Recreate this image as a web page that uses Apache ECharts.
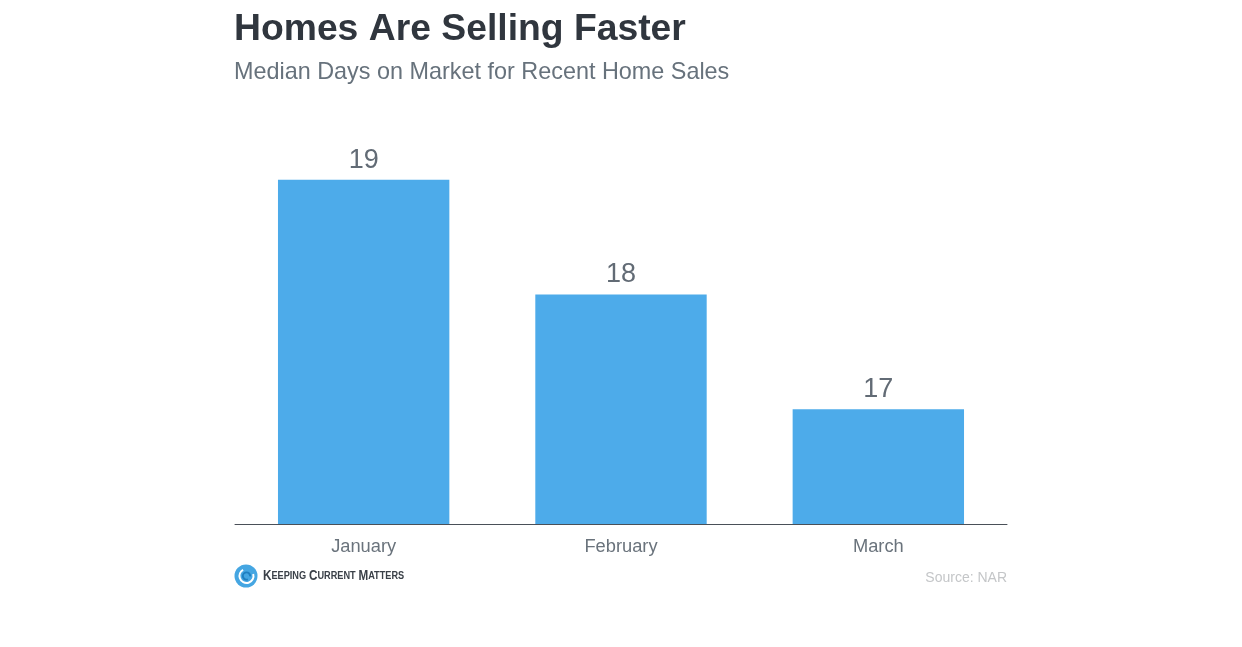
<!DOCTYPE html>
<html><head><meta charset="utf-8">
<style>html,body{margin:0;padding:0;background:#fff}#c{width:1242px;height:647px}</style>
<script src="https://cdn.jsdelivr.net/npm/echarts@6/dist/echarts.min.js"></script>
</head><body><div id="c"></div>
<script>
const categories = ["January","February","March"];
const values = [19,18,17];
const titleText = "Homes Are Selling Faster";
const subtitleText = "Median Days on Market for Recent Home Sales";
const sourceText = "Source: NAR";
const chart = echarts.init(document.getElementById('c'),null,{renderer:'canvas'});
const F = '"Liberation Sans", Arial, sans-serif';
chart.setOption({
  animation:false,
  backgroundColor:'#fff',
  grid:{left:235,top:65,width:772,height:459,containLabel:false},
  xAxis:{type:'category',data:categories,
    axisLine:{lineStyle:{color:'#4a5058',width:1}},axisTick:{show:false},
    axisLabel:{color:'#6a737c',fontFamily:F,fontSize:18.3,margin:14}},
  yAxis:{type:'value',min:16,max:20,show:false,splitLine:{show:false}},
  series:[{type:'bar',data:values,barWidth:'66.6%',itemStyle:{color:'#4dabea'},
    label:{show:true,position:'top',distance:6,color:'#626b75',fontFamily:F,fontSize:27}}],
  graphic:[
    {type:'text',x:234,y:11,style:{text:titleText,fill:'#30363e',font:'bold 37.3px '+F}},
    {type:'text',x:234,y:61,style:{text:subtitleText,fill:'#67727c',font:'23.4px '+F}},
    {type:'text',right:235,top:571,style:{text:sourceText,fill:'#c4c6c8',font:'14px '+F}},
    {type:'circle',shape:{cx:246,cy:576,r:11.5},style:{fill:'#45a6e2'}},
    {type:'arc',shape:{cx:246.5,cy:576,r:7,startAngle:-0.3,endAngle:4.2},style:{stroke:'#fff',lineWidth:2,fill:null}},
    {type:'arc',shape:{cx:246.5,cy:576,r:3.6,startAngle:1.2,endAngle:6.4},style:{stroke:'#1f7fc0',lineWidth:2,fill:null}},
    {type:'text',x:263,y:569,scaleX:0.835,scaleY:1,style:{rich:{a:{font:'bold 14px '+F,fill:'#3a4048'},b:{font:'bold 11px '+F,fill:'#3a4048'}},text:'{a|K}{b|EEPING} {a|C}{b|URRENT} {a|M}{b|ATTERS}'}}
  ]
});
</script></body></html>
